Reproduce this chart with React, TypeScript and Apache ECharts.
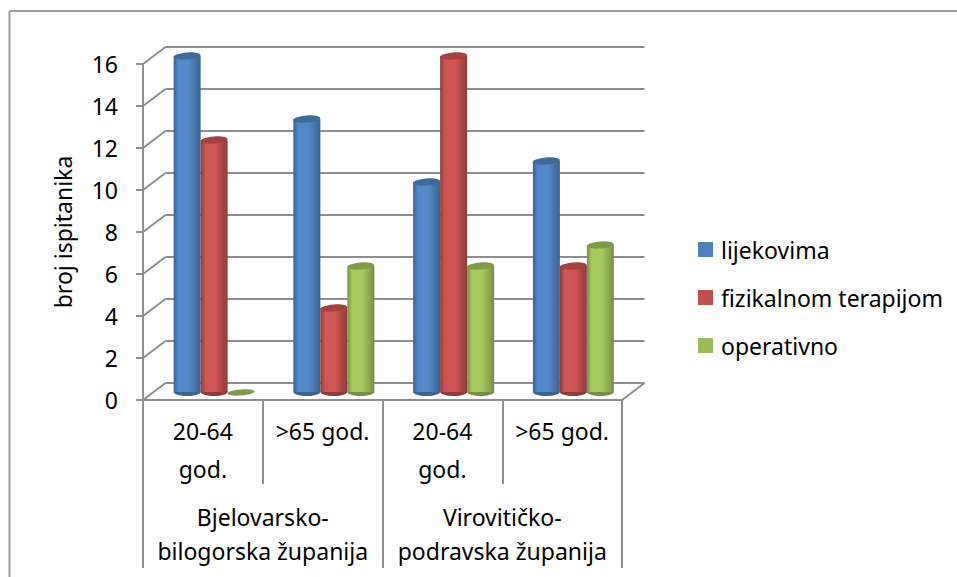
import React, { useEffect, useRef } from "react";
import * as echarts from "echarts";

const groupLabels = ["20-64\ngod.", ">65 god.", "20-64\ngod.", ">65 god."];
const countyLabels = ["Bjelovarsko-\nbilogorska županija", "Virovitičko-\npodravska županija"];
const yTicks = [0, 2, 4, 6, 8, 10, 12, 14, 16];
const lijekovima = [16, 13, 10, 11];
const fizikalnom = [12, 4, 16, 6];
const operativno = [0, 6, 6, 7];

const FONT = "Noto Sans";
const FS = 23;
const GRAY = "#8e8e8e";
const DX = 22.5;
const DY = -17;
const BAR_W = 27;

function cylinderRender(seriesIndex: number, side: string, mid: string, top: string, flat: string) {
  return (params: any, api: any) => {
    const cat = api.value(0);
    const v = api.value(1);
    const base = api.coord([cat, 0]);
    const peak = api.coord([cat, v]);
    const cx = base[0] + DX / 2 + (seriesIndex - 1) * BAR_W;
    const by = base[1] + DY / 2 + 0.5;
    const ty = peak[1] + DY / 2 + 0.5;
    const x0 = cx - BAR_W / 2;
    const tilt = 0.07;
    if (v === 0) {
      return {
        type: "ellipse",
        shape: { cx: 0, cy: 0, rx: BAR_W / 2, ry: 3 },
        x: cx,
        y: by + 0.5,
        rotation: tilt,
        style: { fill: flat },
      };
    }
    return {
      type: "group",
      children: [
        {
          type: "ellipse",
          shape: { cx: 0, cy: 0, rx: BAR_W / 2, ry: 4 },
          x: cx,
          y: by,
          style: { fill: side },
        },
        {
          type: "rect",
          shape: { x: x0, y: ty, width: BAR_W, height: by - ty },
          style: {
            fill: new echarts.graphic.LinearGradient(0, 0, 1, 0, [
              { offset: 0, color: side },
              { offset: 0.18, color: mid },
              { offset: 0.55, color: mid },
              { offset: 1, color: side },
            ]),
          },
        },
        {
          type: "ellipse",
          shape: { cx: 0, cy: 0, rx: BAR_W / 2, ry: 3.6 },
          x: cx,
          y: ty,
          rotation: tilt,
          style: { fill: top },
        },
      ],
    };
  };
}

function wallRender(params: any, api: any) {
  const v = api.value(0);
  const left = api.coord([0, v]);
  const x0 = params.coordSys.x;
  const x1 = x0 + params.coordSys.width;
  const y = left[1];
  const lineStyle = { stroke: GRAY, lineWidth: 2, fill: "none" };
  const children: any[] = [
    { type: "line", shape: { x1: x0, y1: y, x2: x0 + DX, y2: y + DY }, style: lineStyle },
    { type: "line", shape: { x1: x0 + DX, y1: y + DY, x2: x1 + DX, y2: y + DY }, style: lineStyle },
  ];
  if (v === 0) {
    children.push({ type: "line", shape: { x1: x1, y1: y, x2: x1 + DX, y2: y + DY }, style: lineStyle });
  }
  return { type: "group", children };
}

export default function App() {
  const ref = useRef<HTMLDivElement>(null);
  useEffect(() => {
    const chart = echarts.init(ref.current!, undefined, { renderer: "svg" });
    const bars = [
      { name: "lijekovima", values: lijekovima, color: "#4F81BD", side: "#3a6491", mid: "#5389cb", top: "#3f6a9c", flat: "#7f9b47" },
      { name: "fizikalnom terapijom", values: fizikalnom, color: "#C0504D", side: "#8f3c3a", mid: "#cf5653", top: "#a3423f", flat: "#a3423f" },
      { name: "operativno", values: operativno, color: "#9BBB59", side: "#768f43", mid: "#a7ca60", top: "#7f9b47", flat: "#7f9b47" },
    ];
    chart.setOption({
      animation: false,
      backgroundColor: "#fff",
      textStyle: { fontFamily: FONT },
      grid: { left: 143, top: 64, width: 479, height: 336, containLabel: false, outerBoundsMode: "none" },
      legend: {
        orient: "vertical",
        left: 693,
        top: 233,
        itemWidth: 15,
        itemHeight: 15,
        itemGap: 25,
        icon: "rect",
        textStyle: { fontFamily: FONT, fontSize: FS, color: "#000", padding: [0, 0, 0, 3] },
        data: bars.map((b) => b.name),
      },
      xAxis: [
        {
          type: "category",
          data: groupLabels,
          position: "bottom",
          axisLine: { show: true, lineStyle: { color: GRAY, width: 2 } },
          axisTick: { show: true, length: 84, alignWithLabel: false, lineStyle: { color: GRAY, width: 2 } },
          axisLabel: { fontFamily: FONT, fontSize: FS, color: "#000", margin: 12, lineHeight: 38, interval: 0 },
        },
        {
          type: "category",
          data: countyLabels,
          position: "bottom",
          axisLine: { show: false },
          axisTick: { show: true, length: 168, lineStyle: { color: GRAY, width: 2 } },
          axisLabel: { fontFamily: FONT, fontSize: FS, color: "#000", margin: 100, lineHeight: 34, interval: 0 },
        },
      ],
      yAxis: {
        type: "value",
        min: 0,
        max: 16,
        interval: 2,
        name: "broj ispitanika",
        nameLocation: "middle",
        nameGap: 69,
        nameRotate: 90,
        nameTextStyle: { fontFamily: FONT, fontSize: FS, color: "#000" },
        axisLine: { show: true, lineStyle: { color: GRAY, width: 2 } },
        axisTick: { show: true, length: 7, lineStyle: { color: GRAY, width: 2 } },
        axisLabel: { fontFamily: FONT, fontSize: FS, color: "#000", margin: 25 },
        splitLine: { show: false },
      },
      graphic: [
        { type: "line", shape: { x1: 9.5, y1: 11, x2: 957, y2: 11 }, style: { stroke: "#a0a0a0", lineWidth: 2 } },
        { type: "line", shape: { x1: 9.5, y1: 11, x2: 9.5, y2: 577 }, style: { stroke: "#a0a0a0", lineWidth: 2 } },
      ],
      series: [
        {
          type: "custom",
          name: "wall",
          coordinateSystem: "cartesian2d",
          renderItem: wallRender,
          data: yTicks.map((v) => [v]),
          encode: { y: 0 },
          silent: true,
          z: 1,
        },
        ...bars.map((b, i) => ({
          type: "custom",
          name: b.name,
          coordinateSystem: "cartesian2d",
          renderItem: cylinderRender(i, b.side, b.mid, b.top, b.flat),
          itemStyle: { color: b.color },
          data: b.values.map((v, c) => [c, v]),
          encode: { x: 0, y: 1 },
          z: 2 + i,
        })),
      ],
    });
    return () => chart.dispose();
  }, []);
  return <div ref={ref} style={{ position: "fixed", left: 0, top: 0, width: 957, height: 577 }} />;
}
